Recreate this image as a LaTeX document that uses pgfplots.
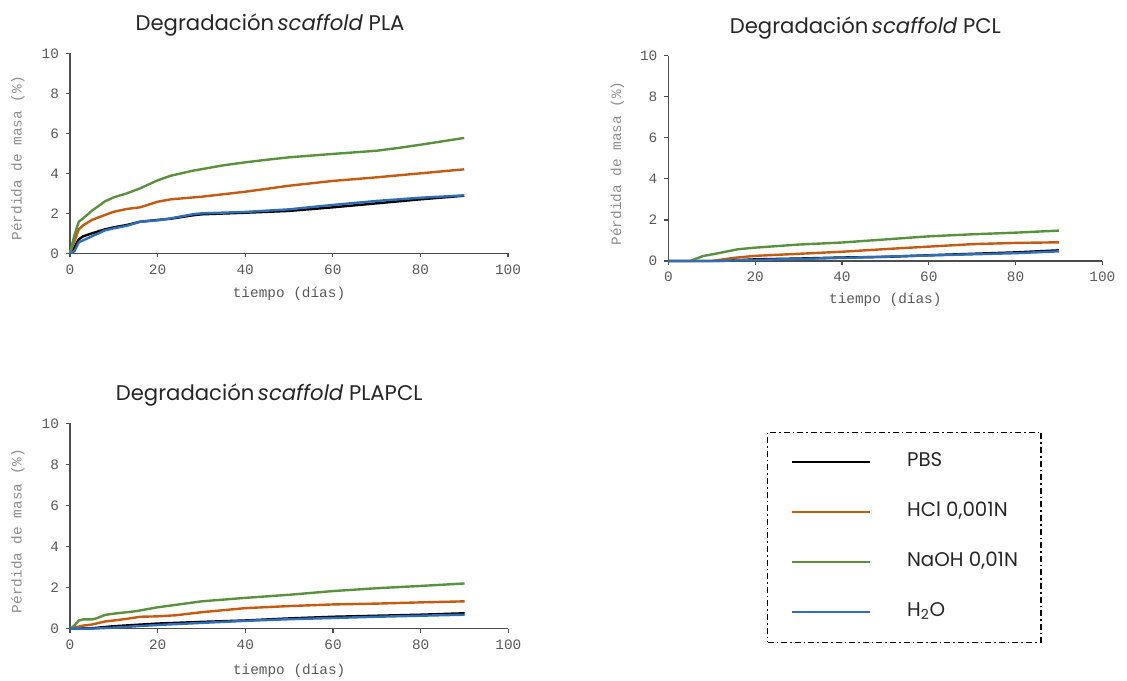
\documentclass[border=0pt]{standalone}
\usepackage{fontspec}
\setmainfont{Poppins}
\newfontfamily\monofont{Liberation Mono}
\usepackage{pgfplots}
\pgfplotsset{compat=1.18}
\definecolor{cPBS}{HTML}{000000}
\definecolor{cHCl}{HTML}{C55A11}
\definecolor{cNaOH}{HTML}{5A913C}
\definecolor{cH2O}{HTML}{2F6EB5}
\definecolor{axgray}{HTML}{4D4D4D}
\definecolor{tickgray}{HTML}{595959}
\definecolor{ylgray}{HTML}{8C8C8C}
\definecolor{titlegray}{HTML}{262626}
\pgfplotsset{
  deg/.style={
    scale only axis,
    anchor=south west,
    xmin=0, xmax=100, ymin=0, ymax=10,
    xtick={0,20,...,100}, ytick={0,2,...,10},
    axis lines=left,
    axis line style={-, color=axgray, line width=0.7pt},
    tick style={color=axgray, line width=0.6pt},
    tick align=outside,
    major tick length=2pt,
    every tick label/.append style={font=\monofont\fontsize{7.2}{8}\selectfont, text=tickgray},
    /pgf/number format/assume math mode=true,
    xlabel={tiempo (días)},
    ylabel={Pérdida de masa (\%)},
    xlabel style={font=\monofont\fontsize{7.2}{8}\selectfont, text=tickgray, at={(axis description cs:0.5,0)}, anchor=base},
    ylabel style={font=\monofont\fontsize{7.2}{8}\selectfont, text=ylgray, anchor=center, rotate=0},
    every axis title shift=0pt,
    title style={font=\fontsize{10.6}{12.5}\selectfont, text=titlegray, at={(axis description cs:0.5,1)}, anchor=base},
    every axis plot/.append style={line width=1.2pt, no marks, line join=round},
    clip=false,
  }
}
\begin{document}
\begin{tikzpicture}
\useasboundingbox (0,0) rectangle (563.5pt,340pt);

% ---------- PLA ----------
\begin{axis}[deg, at={(35pt,213.33pt)}, width=219pt, height=100pt,
  title={Degradación\,\textit{scaffold} PLA},
  title style={xshift=-9.5pt, yshift=11.3pt},
  xlabel style={yshift=-22pt},
  ylabel style={at={(axis description cs:-0.119,0.475)}}]
\addplot[cPBS] coordinates {(0,0) (1,0.3) (2,0.7) (3,0.85) (5,1.0) (8,1.2) (10,1.3) (13,1.42) (16,1.58) (20,1.67) (23,1.73) (28,1.9) (30,1.95) (40,2.03) (50,2.12) (60,2.3) (70,2.5) (80,2.7) (90,2.88)};
\addplot[cHCl] coordinates {(0,0) (1,0.6) (2,1.2) (3,1.4) (5,1.67) (8,1.92) (10,2.08) (13,2.22) (16,2.3) (20,2.58) (23,2.7) (30,2.83) (40,3.08) (50,3.38) (60,3.62) (70,3.8) (80,4.0) (90,4.2)};
\addplot[cNaOH] coordinates {(0,0) (1,0.9) (2,1.58) (3,1.75) (5,2.13) (8,2.6) (10,2.8) (13,3.0) (16,3.25) (20,3.65) (23,3.88) (28,4.13) (35,4.4) (40,4.55) (45,4.68) (50,4.8) (60,4.97) (70,5.13) (75,5.27) (80,5.43) (90,5.77)};
\addplot[cH2O] coordinates {(0,0) (1,0.1) (2,0.55) (3,0.65) (5,0.85) (8,1.15) (10,1.25) (13,1.38) (16,1.58) (20,1.65) (23,1.75) (28,1.95) (30,2.0) (40,2.07) (50,2.2) (60,2.42) (70,2.62) (80,2.78) (90,2.9)};
\end{axis}

% ---------- PCL ----------
\begin{axis}[deg, at={(334.17pt,209.5pt)}, width=217pt, height=102.7pt,
  title={Degradación\,\textit{scaffold} PCL},
  title style={xshift=-10pt, yshift=11.2pt},
  xlabel style={yshift=-21.5pt},
  ylabel style={at={(axis description cs:-0.1175,0.475)}}]
\addplot[cPBS] coordinates {(0,0) (12,0) (20,0.08) (30,0.12) (40,0.17) (50,0.2) (60,0.28) (70,0.35) (80,0.42) (90,0.52)};
\addplot[cHCl] coordinates {(0,0) (10,0) (15,0.15) (20,0.25) (30,0.35) (40,0.45) (50,0.58) (60,0.7) (70,0.82) (80,0.88) (90,0.91)};
\addplot[cNaOH] coordinates {(0,0) (5,0) (8,0.24) (12,0.4) (16,0.57) (20,0.65) (30,0.8) (40,0.9) (50,1.05) (60,1.2) (70,1.3) (80,1.38) (90,1.48)};
\addplot[cH2O] coordinates {(0,0) (10,0) (20,0.05) (40,0.15) (60,0.27) (80,0.38) (90,0.47)};
\end{axis}

% ---------- PLAPCL ----------
\begin{axis}[deg, at={(35pt,25.67pt)}, width=219.2pt, height=102.7pt,
  title={Degradación\,\textit{scaffold} PLAPCL},
  title style={xshift=-10pt, yshift=11.15pt},
  xlabel style={yshift=-23pt},
  ylabel style={at={(axis description cs:-0.1186,0.475)}},
  legend cell align=left,
  legend image code/.code={\draw[#1, line width=1.2pt] (0pt,0pt) -- (39pt,0pt);},
  legend style={at={(axis description cs:1.59,0.9595)}, anchor=north west,
    draw=black, line width=0.6pt, dash pattern=on 3pt off 1.5pt on 0.8pt off 1.5pt,
    fill=none, font=\fontsize{9.9}{11}\selectfont, text=titlegray,
    inner xsep=11.5pt, inner ysep=10.5pt, row sep=16pt, column sep=18pt,
    nodes={text height=6.5pt, text depth=2.5pt, inner sep=0pt}},
  ]
\addplot[cPBS] coordinates {(0,0) (5,0.02) (10,0.12) (20,0.25) (30,0.33) (40,0.4) (50,0.5) (60,0.58) (70,0.63) (80,0.68) (90,0.75)};
\addlegendentry{PBS}
\addplot[cHCl] coordinates {(0,0) (2,0.1) (3,0.15) (5,0.2) (8,0.35) (10,0.4) (13,0.48) (16,0.58) (20,0.6) (24,0.65) (30,0.8) (40,1.0) (50,1.1) (60,1.18) (70,1.22) (80,1.28) (90,1.33)};
\addlegendentry{HCl 0,001N}
\addplot[cNaOH] coordinates {(0,0) (1,0.15) (2,0.4) (3,0.45) (5,0.45) (6,0.5) (8,0.67) (10,0.73) (15,0.85) (20,1.04) (30,1.33) (40,1.5) (50,1.65) (60,1.83) (70,1.97) (80,2.08) (90,2.2)};
\addlegendentry{NaOH 0,01N}
\addplot[cH2O] coordinates {(0,0) (5,0) (10,0.05) (20,0.18) (30,0.28) (40,0.38) (50,0.46) (60,0.52) (70,0.58) (80,0.63) (90,0.68)};
\addlegendentry{H\textsubscript{2}O}
\end{axis}
\end{tikzpicture}
\end{document}
